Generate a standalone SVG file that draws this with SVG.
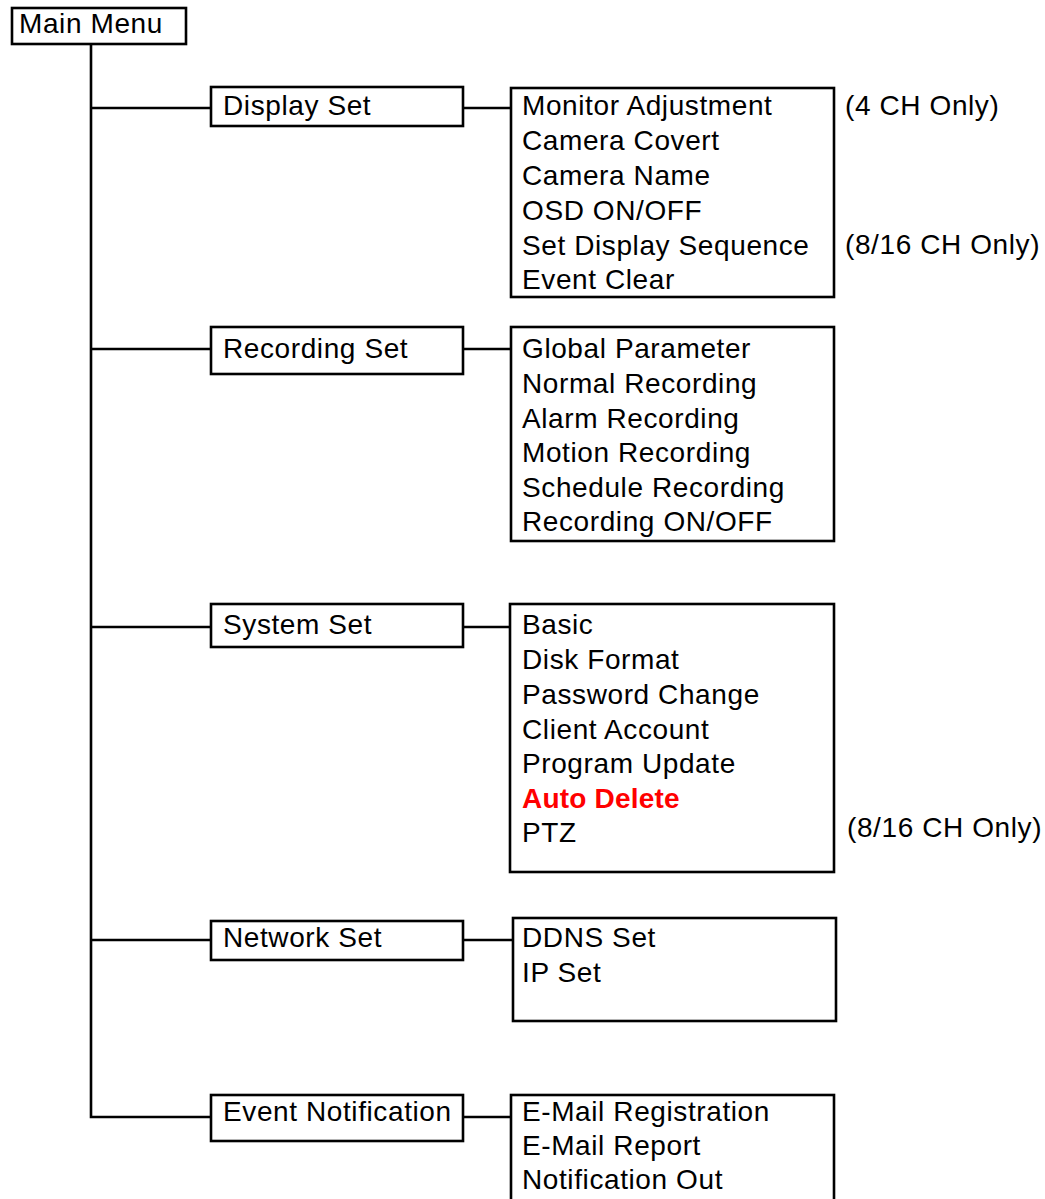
<svg xmlns="http://www.w3.org/2000/svg" width="1045" height="1199" viewBox="0 0 1045 1199">
<style>
  .box { fill: #ffffff; stroke: #000000; stroke-width: 2.6; }
  .ln { fill: none; stroke: #000000; stroke-width: 2.6; }
  text { font-family: "Liberation Sans", Arial, Helvetica, sans-serif; font-size: 28px; letter-spacing: 0.6px; fill: #000000; }
  .red { fill: #ff0000; font-weight: bold; letter-spacing: 0.2px; }
</style>
<rect width="1045" height="1199" fill="#ffffff"/>

<g id="connectors">
  <path class="ln" d="M91,35 V1117 H211"/>
  <line class="ln" x1="91" y1="108" x2="211" y2="108"/>
  <line class="ln" x1="91" y1="349" x2="211" y2="349"/>
  <line class="ln" x1="91" y1="627" x2="211" y2="627"/>
  <line class="ln" x1="91" y1="940" x2="211" y2="940"/>
  <line class="ln" x1="463" y1="108" x2="511" y2="108"/>
  <line class="ln" x1="463" y1="349" x2="511" y2="349"/>
  <line class="ln" x1="463" y1="627" x2="510" y2="627"/>
  <line class="ln" x1="463" y1="940" x2="513" y2="940"/>
  <line class="ln" x1="463" y1="1117" x2="511" y2="1117"/>
</g>

<g id="main-menu">
  <rect class="box" x="12" y="8" width="174" height="36" fill="none"/>
  <text x="19" y="33">Main Menu</text>
</g>

<g id="display-set">
  <rect class="box" x="211" y="87" width="252" height="39"/>
  <text x="223" y="115">Display Set</text>
</g>
<g id="display-items">
  <rect class="box" x="511" y="88" width="323" height="209"/>
  <text x="522" y="115">Monitor Adjustment</text>
  <text x="522" y="150">Camera Covert</text>
  <text x="522" y="185">Camera Name</text>
  <text x="522" y="220">OSD ON/OFF</text>
  <text x="522" y="255">Set Display Sequence</text>
  <text x="522" y="289">Event Clear</text>
</g>
<g id="display-notes">
  <text x="845" y="115">(4 CH Only)</text>
  <text x="845" y="254">(8/16 CH Only)</text>
</g>

<g id="recording-set">
  <rect class="box" x="211" y="327" width="252" height="47"/>
  <text x="223" y="358">Recording Set</text>
</g>
<g id="recording-items">
  <rect class="box" x="511" y="327" width="323" height="214"/>
  <text x="522" y="358">Global Parameter</text>
  <text x="522" y="393">Normal Recording</text>
  <text x="522" y="428">Alarm Recording</text>
  <text x="522" y="462">Motion Recording</text>
  <text x="522" y="497">Schedule Recording</text>
  <text x="522" y="531">Recording ON/OFF</text>
</g>

<g id="system-set">
  <rect class="box" x="211" y="604" width="252" height="43"/>
  <text x="223" y="634">System Set</text>
</g>
<g id="system-items">
  <rect class="box" x="510" y="604" width="324" height="268"/>
  <text x="522" y="634">Basic</text>
  <text x="522" y="669">Disk Format</text>
  <text x="522" y="704">Password Change</text>
  <text x="522" y="739">Client Account</text>
  <text x="522" y="773">Program Update</text>
  <text class="red" x="522" y="808">Auto Delete</text>
  <text x="522" y="842">PTZ</text>
</g>
<g id="system-notes">
  <text x="847" y="837">(8/16 CH Only)</text>
</g>

<g id="network-set">
  <rect class="box" x="211" y="921" width="252" height="39"/>
  <text x="223" y="947">Network Set</text>
</g>
<g id="network-items">
  <rect class="box" x="513" y="918" width="323" height="103"/>
  <text x="522" y="947">DDNS Set</text>
  <text x="522" y="982">IP Set</text>
</g>

<g id="event-notification">
  <rect class="box" x="211" y="1095" width="252" height="46"/>
  <text x="223" y="1121">Event Notification</text>
</g>
<g id="event-items">
  <rect class="box" x="511" y="1095" width="323" height="130"/>
  <text x="522" y="1121">E-Mail Registration</text>
  <text x="522" y="1155">E-Mail Report</text>
  <text x="522" y="1189">Notification Out</text>
</g>
</svg>
